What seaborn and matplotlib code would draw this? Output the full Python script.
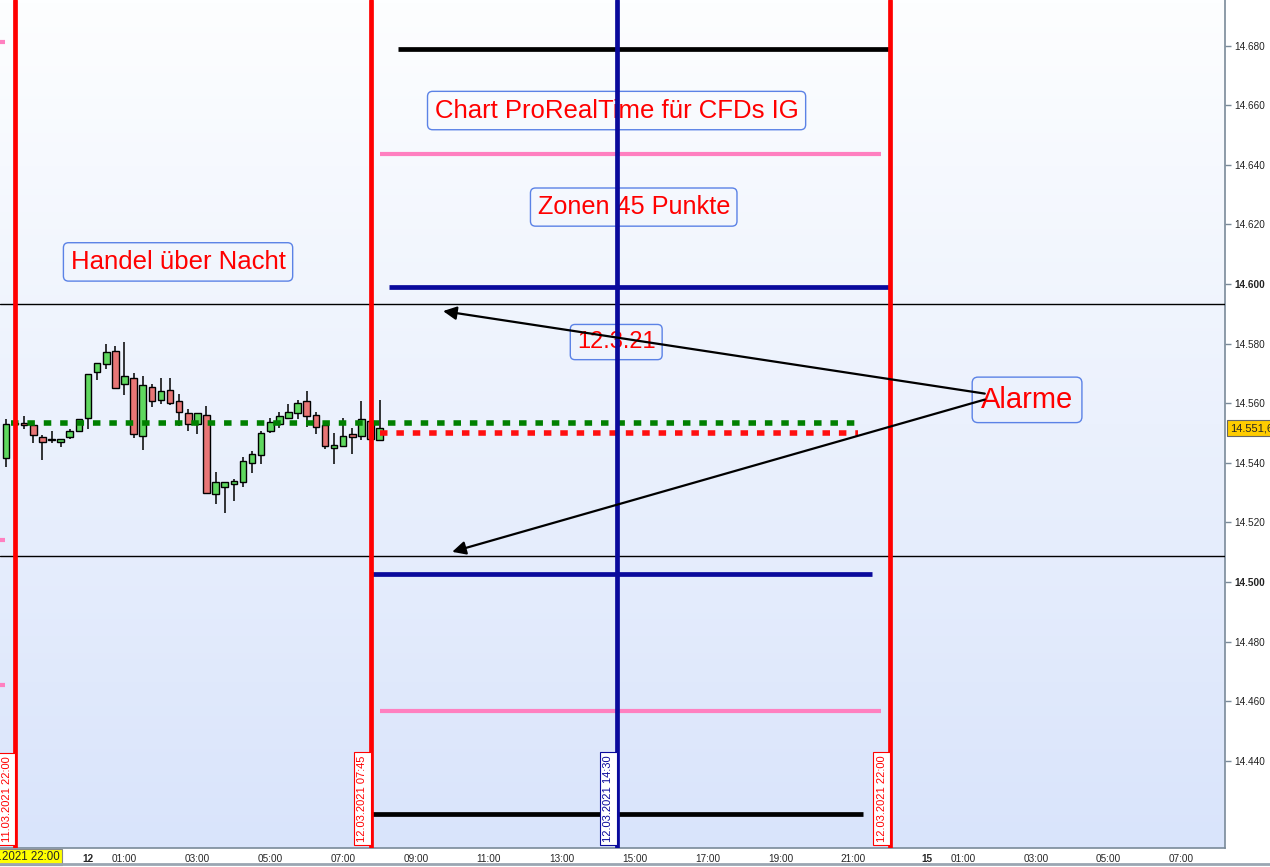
import numpy as np
import pandas as pd
import matplotlib
matplotlib.use("Agg")
import matplotlib.pyplot as plt
import seaborn as sns
from matplotlib.colors import LinearSegmentedColormap
from matplotlib.lines import Line2D

sns.set_style("white")
plt.rcParams['font.family'] = ['Liberation Sans', 'DejaVu Sans']

# 15 minute candles, DAX CFD, Thursday night to Friday morning
candle_times = pd.date_range("2021-03-11 21:45", "2021-03-12 08:00", freq="15min")
opens = [14541.5, 14553.5, 14553.2, 14552.6, 14548.5, 14547.8, 14546.9, 14548.5, 14550.5, 14554.9,
         14570.4, 14573.0, 14577.4, 14566.3, 14568.3, 14548.9, 14565.3, 14561.0, 14564.3, 14560.6,
         14556.6, 14552.9, 14555.9, 14529.4, 14531.8, 14532.8, 14533.4, 14539.8, 14542.5, 14550.5,
         14552.9, 14554.9, 14556.6, 14560.6, 14555.9, 14552.6, 14544.8, 14545.5, 14549.5, 14548.9,
         14554.0, 14547.5]
highs = [14554.7, 14554.0, 14555.7, 14552.9, 14549.3, 14550.7, 14547.9, 14551.2, 14554.8, 14569.8,
         14573.5, 14579.9, 14579.2, 14580.4, 14570.0, 14569.0, 14566.3, 14568.3, 14568.3, 14563.0,
         14557.9, 14556.6, 14558.9, 14536.8, 14533.5, 14534.4, 14541.9, 14543.8, 14550.5, 14554.9,
         14556.9, 14559.6, 14561.0, 14564.0, 14556.9, 14552.9, 14549.9, 14554.9, 14551.6, 14560.6,
         14556.0, 14561.0]
lows = [14538.7, 14552.5, 14551.4, 14546.7, 14541.0, 14546.7, 14545.4, 14548.1, 14550.3, 14551.4,
        14567.8, 14571.5, 14564.9, 14562.8, 14548.4, 14544.4, 14558.8, 14559.8, 14559.5, 14552.4,
        14550.8, 14549.8, 14529.7, 14526.3, 14523.2, 14527.3, 14531.8, 14536.7, 14539.7, 14549.9,
        14551.6, 14554.6, 14554.6, 14551.9, 14549.5, 14544.5, 14539.5, 14545.5, 14542.8, 14547.5,
        14546.0, 14547.5]
closes = [14552.9, 14553.0, 14552.6, 14549.2, 14546.9, 14547.7, 14547.9, 14550.5, 14554.6, 14569.7,
          14573.4, 14577.1, 14565.2, 14569.0, 14549.5, 14566.0, 14560.6, 14564.0, 14560.0, 14556.9,
          14552.9, 14556.6, 14529.7, 14533.4, 14533.4, 14533.8, 14540.5, 14542.8, 14549.9, 14553.6,
          14555.6, 14556.9, 14560.0, 14555.6, 14551.9, 14545.5, 14545.9, 14548.9, 14548.5, 14554.6,
          14548.0, 14551.6]
last_price = 14551.6

# drawn zones for Friday 12.03.2021
level_prices = [14678.9, 14643.6, 14599.0, 14502.7, 14456.7, 14422.1]
level_start = ["2021-03-12 08:30", "2021-03-12 08:00", "2021-03-12 08:15",
               "2021-03-12 07:45", "2021-03-12 08:00", "2021-03-12 07:45"]
level_end = ["2021-03-12 22:00", "2021-03-12 21:45", "2021-03-12 22:00",
             "2021-03-12 21:30", "2021-03-12 21:45", "2021-03-12 21:15"]
level_colors = ["black", "#ff80c0", "#0a0a9c", "#0a0a9c", "#ff80c0", "black"]

# zones left over from the previous day
prev_prices = [14681.2, 14514.1, 14465.4]

# alarm lines
alarm_prices = [14593.3, 14508.7]

# dashed reference lines
green_level = 14553.3
green_span = ["2021-03-11 21:53", "2021-03-12 21:15"]
red_level = 14550.0
red_span = ["2021-03-12 08:00", "2021-03-12 21:07"]

# vertical time markers
marker_times = ["2021-03-11 22:00", "2021-03-12 07:45", "2021-03-12 14:30", "2021-03-12 22:00"]
marker_labels = ["11.03.2021 22:00", "12.03.2021 07:45", "12.03.2021 14:30", "12.03.2021 22:00"]
marker_colors = ["#ff0000", "#ff0000", "#0a0a9c", "#ff0000"]

ytick_values = [14440, 14460, 14480, 14500, 14520, 14540, 14560, 14580, 14600, 14620, 14640, 14660, 14680]
ytick_labels = ["14.440", "14.460", "14.480", "14.500", "14.520", "14.540", "14.560",
                "14.580", "14.600", "14.620", "14.640", "14.660", "14.680"]

friday = pd.Timestamp("2021-03-12 00:00")
monday = pd.Timestamp("2021-03-15 00:00")


def to_x(t):
    # hours since Friday 00:00, weekend squeezed out (Monday 00:00 -> 23)
    t = pd.Timestamp(t)
    h = (t - friday) / pd.Timedelta(hours=1)
    if t >= monday:
        h -= 49
    return h


fig = plt.figure(figsize=(12.7, 8.67), dpi=100)
ax = fig.add_axes([0, 19 / 867, 1225 / 1270, 848 / 867])

# background gradient
cmap = LinearSegmentedColormap.from_list("bg", ["#d9e4fb", "#fdfeff"])
ax.imshow(np.linspace(0, 1, 256).reshape(-1, 1), extent=[0, 1, 0, 1], transform=ax.transAxes,
          cmap=cmap, aspect="auto", origin="lower", zorder=0)

# text boxes (drawn under the lines)
box = dict(boxstyle="round,pad=0.28,rounding_size=0.2", fc="none", ec="#5b82e6", lw=1)
ax.text(2.47, 14607.4, "Handel über Nacht", color="red", fontsize=18.5, ha="center", va="center", bbox=box, zorder=1)
ax.text(14.5, 14658.2, "Chart ProRealTime für CFDs IG", color="red", fontsize=18.5, ha="center", va="center", bbox=box, zorder=1)
ax.text(14.97, 14625.8, "Zonen 45 Punkte", color="red", fontsize=18.2, ha="center", va="center", bbox=box, zorder=1)
ax.text(14.49, 14580.5, "12.3.21", color="red", fontsize=17, ha="center", va="center", bbox=box, zorder=1)
ax.text(25.76, 14561.1, "Alarme", color="red", fontsize=21, ha="center", va="center",
        bbox=dict(boxstyle="round,pad=0.3,rounding_size=0.2", fc="none", ec="#5b82e6", lw=1), zorder=1)

# candles
cx = [to_x(t) for t in candle_times]
ax.vlines(cx, lows, highs, color="black", lw=1.1, zorder=3)
for x, o, c in zip(cx, opens, closes):
    col = "#5fd85f" if c > o else "#e87676"
    ax.bar(x, max(abs(c - o), 0.1), bottom=min(o, c), width=0.18, color=col,
           edgecolor="black", linewidth=1, zorder=3)

# dashed lines
dash = pd.DataFrame({"x": [to_x(t) for t in green_span], "y": [green_level] * 2})
sns.lineplot(data=dash, x="x", y="y", ax=ax, color="#008000", lw=4, zorder=4)
ax.lines[-1].set_dashes((1.35, 1.6))
dash = pd.DataFrame({"x": [to_x(t) for t in red_span], "y": [red_level] * 2})
sns.lineplot(data=dash, x="x", y="y", ax=ax, color="#ff1010", lw=4, zorder=4)
ax.lines[-1].set_dashes((1.35, 1.6))

# zones
for p, s, e, c in zip(level_prices, level_start, level_end, level_colors):
    lw = 3.4 if c != "#ff80c0" else 3.0
    ax.hlines(p, to_x(s), to_x(e), color=c, lw=lw, zorder=4)
for p in prev_prices:
    ax.hlines(p, -3, to_x("2021-03-11 21:43"), color="#ff80c0", lw=3.0, zorder=4)
for p in alarm_prices:
    ax.axhline(p, color="black", lw=1, zorder=4)

# vertical markers with date labels
for t, lab, c in zip(marker_times, marker_labels, marker_colors):
    ax.axvline(to_x(t), color=c, lw=3.4, zorder=5)
    ax.annotate(lab, xy=(to_x(t), 0), xycoords=("data", "axes fraction"),
                xytext=(-6, 4.5), textcoords="offset points", rotation=90,
                ha="center", va="bottom", color=c, fontsize=8, zorder=5,
                bbox=dict(boxstyle="square,pad=0.3", fc="white", ec=c, lw=0.8))

# alarm arrows
arrow = dict(arrowstyle="-|>", color="black", lw=1.6, mutation_scale=20, shrinkA=0, shrinkB=0)
ax.annotate("", xy=(9.74, 14590.9), xytext=(24.6, 14563.2), arrowprops=arrow, zorder=6)
ax.annotate("", xy=(9.99, 14510.1), xytext=(24.6, 14561.2), arrowprops=arrow, zorder=6)

ax.set_xlim(-2.414, 31.19)
ax.set_ylim(14410.7, 14695.3)

# y axis on the right
ax.yaxis.tick_right()
ax.set_yticks(ytick_values)
ax.set_yticklabels(ytick_labels)
for lab, v in zip(ax.get_yticklabels(), ytick_values):
    if v % 100 == 0:
        lab.set_fontweight("bold")
ax.tick_params(axis="y", direction="out", length=4, width=1, color="#7a8a99",
               labelsize=7.2, labelcolor="#222222", pad=3)

# time axis (the 23:00 label sits under the yellow cursor label)
xt, xl = [], []
for t in pd.date_range("2021-03-12 00:00", "2021-03-12 22:00", freq="h").append(
        pd.date_range("2021-03-15 00:00", "2021-03-15 07:00", freq="h")):
    if t.hour == 0:
        xt.append(to_x(t))
        xl.append(str(t.day))
    elif t.hour % 2 == 1:
        xt.append(to_x(t))
        xl.append(t.strftime("%H:%M"))
minor = [to_x(t) for t in pd.date_range("2021-03-11 22:00", "2021-03-12 22:00", freq="h")]
minor += [to_x(t) for t in pd.date_range("2021-03-15 00:00", "2021-03-15 07:00", freq="h")]
ax.set_xticks(xt)
ax.set_xticklabels(xl)
ax.set_xticks(minor, minor=True)
for lab in ax.get_xticklabels():
    if ":" not in lab.get_text():
        lab.set_fontweight("bold")
        lab.set_fontsize(9)
ax.tick_params(axis="x", which="both", direction="out", length=3.5, width=1, color="#7a8a99",
               labelsize=7.2, pad=1)
ax.set_xlabel("")
ax.set_ylabel("")

for side in ["top", "left"]:
    ax.spines[side].set_visible(False)
for side in ["right", "bottom"]:
    ax.spines[side].set_color("#7a8a99")
    ax.spines[side].set_linewidth(1.2)

# current price and cursor date labels
ax.annotate(f"{last_price:,.1f}".replace(",", "X").replace(".", ",").replace("X", "."),
            xy=(1, last_price), xycoords=("axes fraction", "data"), xytext=(3.5, 0),
            textcoords="offset points", ha="left", va="center", fontsize=8,
            bbox=dict(boxstyle="square,pad=0.25", fc="#ffcc00", ec="#666666", lw=0.8),
            annotation_clip=False)
ax.annotate("11.03.2021 22:00", xy=(to_x("2021-03-11 22:00"), 0), xycoords=("data", "axes fraction"),
            xytext=(0, -6.5), textcoords="offset points", ha="center", va="center", fontsize=8.3,
            bbox=dict(boxstyle="square,pad=0.2", fc="#ffff00", ec="#888888", lw=0.8),
            annotation_clip=False, zorder=7)

fig.add_artist(Line2D([0, 1], [3 / 867, 3 / 867], color="#9aa6b2", lw=2))

fig.savefig("out.png", dpi=100)
